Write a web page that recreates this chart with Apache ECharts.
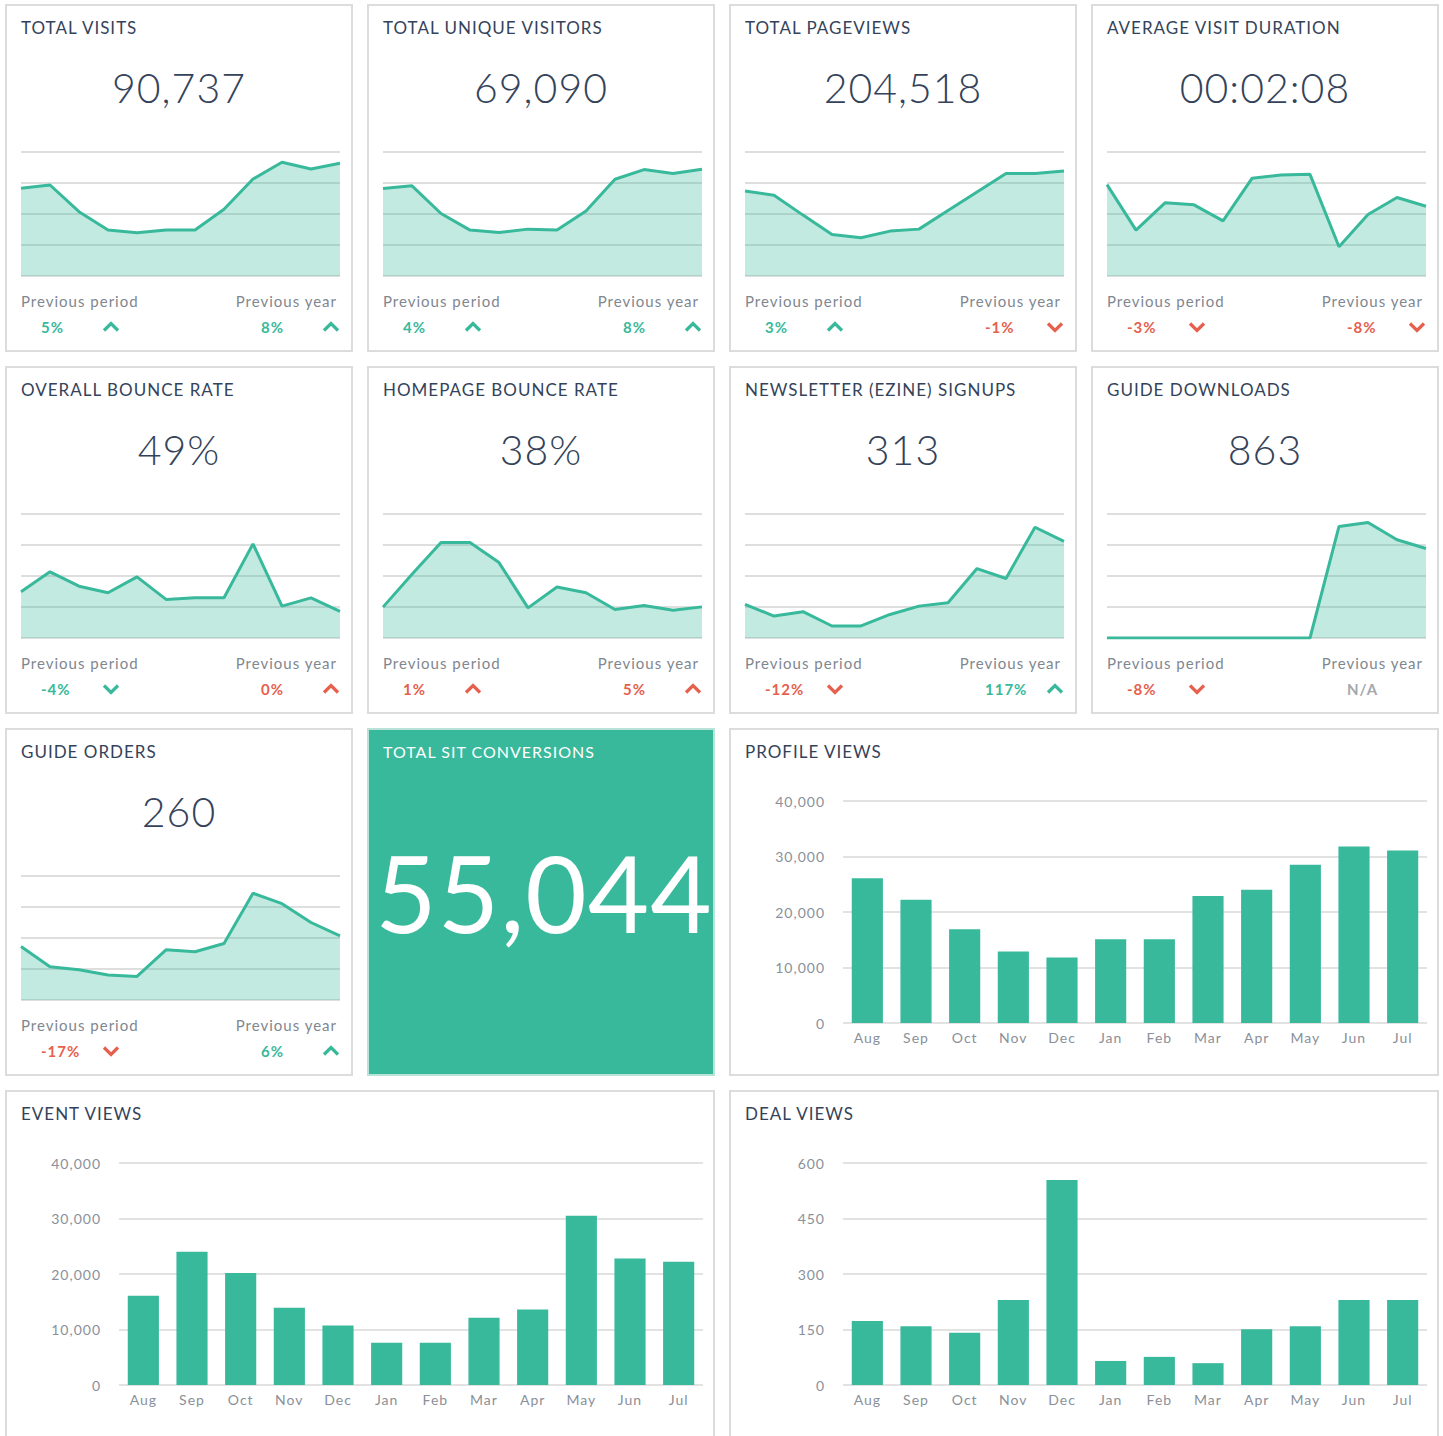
<!DOCTYPE html>
<html>
<head>
<meta charset="utf-8">
<title>Website KPI dashboard</title>
<script src="https://cdn.jsdelivr.net/npm/echarts@6.0.0/dist/echarts.min.js"></script>
<style>
  html, body { margin: 0; padding: 0; background: #fff; }
  #dashboard { width: 1443px; height: 1436px; letter-spacing: 1px; }
</style>
</head>
<body>
<div id="dashboard"></div>
<script>
  var months = ['Aug', 'Sep', 'Oct', 'Nov', 'Dec', 'Jan', 'Feb', 'Mar', 'Apr', 'May', 'Jun', 'Jul']

  // sparkline trends (index, 0 = bottom line, 100 = top line)
  var totalVisits = [70.7, 73.4, 51.9, 37.1, 34.9, 37.1, 37.1, 53.8, 78.2, 91.7, 86.3, 90.9]
  var uniqueVisitors = [70.5, 72.7, 50.4, 37.0, 35.1, 37.8, 37.0, 52.5, 78.0, 85.8, 82.6, 86.1]
  var totalPageviews = [68.6, 65.1, 49.1, 33.5, 30.8, 36.2, 37.8, 52.8, 67.8, 82.6, 82.6, 84.7]
  var avgVisitDuration = [73.7, 37.0, 59.0, 57.4, 44.5, 78.8, 81.5, 82.0, 23.6, 49.6, 63.3, 56.3]
  var overallBounceRate = [37.3, 53.4, 41.8, 36.5, 49.3, 31.1, 32.4, 32.4, 75.9, 25.7, 32.4, 21.4]
  var homepageBounceRate = [24.9, 51.4, 77.0, 77.0, 60.8, 24.3, 41.1, 36.5, 23.0, 26.2, 22.4, 25.1]
  var newsletterSignups = [27.1, 17.7, 21.2, 9.7, 9.7, 19.0, 25.7, 28.4, 56.0, 48.0, 89.3, 78.0]
  var guideDownloads = [0, 0, 0, 0, 0, 0, 0, 0, 90.0, 93.2, 79.2, 72.2]
  var guideOrders = [43.2, 26.8, 24.4, 20.1, 19.0, 40.5, 38.9, 45.6, 86.1, 77.7, 62.5, 51.7]

  // KPI tiles
  var kpiTitles = ['TOTAL VISITS', 'TOTAL UNIQUE VISITORS', 'TOTAL PAGEVIEWS', 'AVERAGE VISIT DURATION',
    'OVERALL BOUNCE RATE', 'HOMEPAGE BOUNCE RATE', 'NEWSLETTER (EZINE) SIGNUPS', 'GUIDE DOWNLOADS', 'GUIDE ORDERS']
  var kpiValues = ['90,737', '69,090', '204,518', '00:02:08', '49%', '38%', '313', '863', '260']
  var prevPeriod = ['5%', '4%', '3%', '-3%', '-4%', '1%', '-12%', '-8%', '-17%']
  var prevPeriodTrend = ['up', 'up', 'up', 'down', 'down', 'up', 'down', 'down', 'down']
  var prevPeriodStatus = ['good', 'good', 'good', 'bad', 'good', 'bad', 'bad', 'bad', 'bad']
  var prevYear = ['8%', '8%', '-1%', '-8%', '0%', '5%', '117%', 'N/A', '6%']
  var prevYearTrend = ['up', 'up', 'down', 'down', 'up', 'up', 'up', 'none', 'up']
  var prevYearStatus = ['good', 'good', 'bad', 'bad', 'bad', 'bad', 'good', 'none', 'good']

  var conversionsTitle = 'TOTAL SIT CONVERSIONS'
  var conversionsValue = '55,044'

  // monthly bar charts
  var profileViews = [26100, 22200, 16900, 12900, 11800, 15100, 15100, 22900, 24000, 28500, 31800, 31100]
  var eventViews = [16100, 24000, 20200, 13900, 10700, 7600, 7600, 12100, 13600, 30500, 22800, 22200]
  var dealViews = [173, 159, 141, 230, 554, 65, 76, 59, 151, 159, 230, 230]

  var GREEN = '#38b99b'
  var RED = '#e6604d'
  var DARK = '#34435a'
  var GREY = '#7f8790'
  var FONT = 'Lato, "Open Sans", sans-serif'
  var statusColor = { good: GREEN, bad: RED, none: '#a3a8ad' }

  var sparkData = [totalVisits, uniqueVisitors, totalPageviews, avgVisitDuration, overallBounceRate,
    homepageBounceRate, newsletterSignups, guideDownloads, guideOrders]

  var grids = [], xAxes = [], yAxes = [], series = [], graphics = []

  function px(col) { return 5 + col * 362 }
  function py(row) { return 4 + row * 362 }

  function addPanel(x, y, w, h, fill, stroke) {
    graphics.push({
      type: 'rect', z: -10, silent: true,
      shape: { x: x + 1, y: y + 1, width: w - 2, height: h - 2 },
      style: { fill: fill, stroke: stroke, lineWidth: 2 }
    })
  }

  function addText(x, y, text, size, color, weight, align) {
    graphics.push({
      type: 'text', z: 10, silent: true, x: x, y: y,
      style: {
        text: text, fill: color, fontSize: size, fontFamily: FONT, fontWeight: weight,
        align: align, textAlign: align, verticalAlign: 'middle', textVerticalAlign: 'middle'
      }
    })
  }

  function addChevron(x, y, trend, color) {
    if (trend === 'none') return
    var d = trend === 'up' ? 1 : -1
    graphics.push({
      type: 'polyline', z: 10, silent: true, x: x, y: y,
      shape: { points: [[-7, 3.5 * d], [0, -3.5 * d], [7, 3.5 * d]] },
      style: { stroke: color, lineWidth: 3.2, fill: null, lineJoin: 'miter' }
    })
  }

  function addBarChart(x, y, title, data, max, interval) {
    var i = grids.length
    addPanel(x, y, 710, i === 9 ? 348 : 420, '#fff', '#dcdcdc')
    addText(x + 16, y + 23, title, 17, DARK, 400, 'left')
    grids.push({ left: x + 114, top: y + 73, width: 584, height: 222 })
    xAxes.push({
      type: 'category', gridIndex: i, data: months,
      axisLine: { show: false }, axisTick: { show: false },
      axisLabel: { color: '#8a9099', fontSize: 14, fontFamily: FONT, margin: 7 }
    })
    yAxes.push({
      type: 'value', gridIndex: i, min: 0, max: max, interval: interval,
      axisLine: { show: false }, axisTick: { show: false },
      axisLabel: {
        color: '#8a9099', fontSize: 14, fontFamily: FONT, margin: 18,
        formatter: function (v) { return v.toLocaleString('en-US') }
      },
      splitLine: { lineStyle: { color: '#e2e2e2', width: 2 } }
    })
    series.push({
      type: 'bar', xAxisIndex: i, yAxisIndex: i, data: data, barWidth: '64%',
      itemStyle: { color: GREEN }, silent: true
    })
  }

  // KPI tiles with sparklines
  sparkData.forEach(function (values, i) {
    var x = px(i % 4), y = py(Math.floor(i / 4))
    addPanel(x, y, 348, 348, '#fff', '#dcdcdc')
    addText(x + 16, y + 23, kpiTitles[i], 17, DARK, 400, 'left')
    addText(x + 174, y + 83, kpiValues[i], 41, DARK, 300, 'center')
    addText(x + 16, y + 297, 'Previous period', 15, GREY, 400, 'left')
    addText(x + 332, y + 297, 'Previous year', 15, GREY, 400, 'right')
    addText(x + 36, y + 323, prevPeriod[i], 15, statusColor[prevPeriodStatus[i]], 700, 'left')
    addChevron(x + 106, y + 323, prevPeriodTrend[i], statusColor[prevPeriodStatus[i]])
    addText(x + 256, y + 323, prevYear[i], 15, statusColor[prevYearStatus[i]], 700, 'left')
    addChevron(x + 326, y + 323, prevYearTrend[i], statusColor[prevYearStatus[i]])

    grids.push({ left: x + 16, top: y + 148, width: 319, height: 124 })
    xAxes.push({ type: 'category', gridIndex: i, data: months, boundaryGap: false, show: false })
    yAxes.push({
      type: 'value', gridIndex: i, min: 0, max: 100, interval: 25,
      axisLabel: { show: false }, axisLine: { show: false }, axisTick: { show: false },
      splitLine: { lineStyle: { color: '#dedede', width: 2 } }
    })
    series.push({
      type: 'line', xAxisIndex: i, yAxisIndex: i, data: values, symbol: 'none', silent: true,
      lineStyle: { color: GREEN, width: 3 },
      areaStyle: { color: GREEN, opacity: 0.3 }
    })
  })

  // big green conversions tile
  addPanel(px(1), py(2), 348, 348, GREEN, '#b9e3d8')
  addText(px(1) + 16, py(2) + 23, conversionsTitle, 16, '#ffffff', 400, 'left')
  addText(px(1) + 177, py(2) + 164, conversionsValue, 106, '#ffffff', 400, 'center')

  addBarChart(px(2), py(2), 'PROFILE VIEWS', profileViews, 40000, 10000)
  addBarChart(px(0), py(3), 'EVENT VIEWS', eventViews, 40000, 10000)
  addBarChart(px(2), py(3), 'DEAL VIEWS', dealViews, 600, 150)

  var chart = echarts.init(document.getElementById('dashboard'), null, { renderer: 'svg' })
  chart.setOption({
    animation: false,
    grid: grids,
    xAxis: xAxes,
    yAxis: yAxes,
    series: series,
    graphic: { elements: graphics }
  })
</script>
</body>
</html>
